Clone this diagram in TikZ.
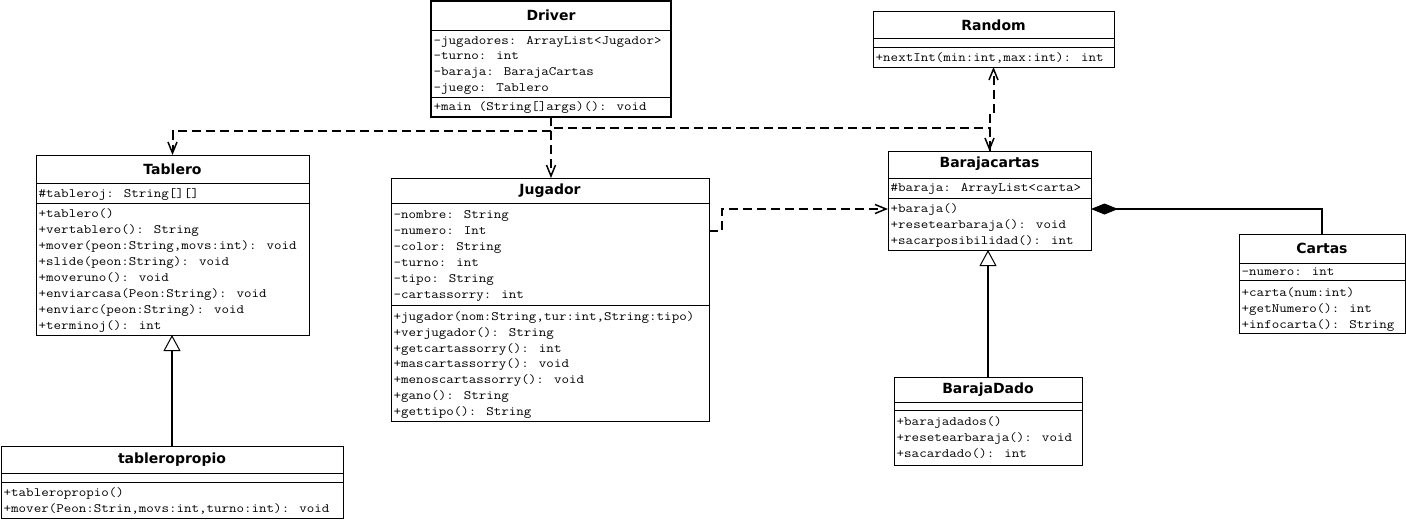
\documentclass[tikz,border=0pt]{standalone}
\usepackage{fontspec}
\setmainfont{DejaVu Sans}
\newfontfamily\membfont[FakeStretch=1.14]{Latin Modern Mono}
\usetikzlibrary{arrows.meta}
\tikzset{
  x=1pt, y=-1pt,
  box/.style={draw=black, line width=1pt, fill=white, inner sep=0pt, outer sep=0pt, anchor=north west},
  ttl/.style={font=\bfseries\fontsize{14}{14}\selectfont, inner sep=0pt},
  memb/.style={font=\membfont\fontsize{12.8}{13}\selectfont, anchor=west, inner sep=0pt, text height=9pt, text depth=3pt},
  sepline/.style={draw=black, line width=1pt},
  dep/.style={line width=2pt, dash pattern=on 9pt off 5pt,
    -{Straight Barb[length=11pt,width=9pt,line width=1.5pt]}},
  inh/.style={line width=2.5pt, -{Triangle[open,length=16pt,width=17pt,line width=1pt]}},
  comp/.style={line width=2.5pt, {Diamond[length=27pt,width=11pt,line width=1pt]}-},
}
% \umlclass{name}{x}{y}{width}{height}{title}{title centre}{sep 1}{sep 2}
\newcommand\umlclass[9]{%
  \node[box, minimum width=#4pt, minimum height=#5pt] (#1) at (#2,#3) {};
  \node[ttl] (#1-title) at ([yshift=-#7pt]#1.north) {#6};
  \draw[sepline] ([yshift=-#8pt]#1.north west) -- ([yshift=-#8pt]#1.north east);
  \draw[sepline] ([yshift=-#9pt]#1.north west) -- ([yshift=-#9pt]#1.north east);
}
% \memb{class}{offset from top}{text}
\newcommand\memb[3]{%
  \node[memb] (#1-#2) at ([xshift=2.5pt,yshift=-#2pt]#1.north west) {#3};
}
\begin{document}
\begin{tikzpicture}
\fill[white] (0,0) rectangle (1406,520);
\useasboundingbox (0,0) rectangle (1406,520);

% Driver
\umlclass{driver}{431}{1}{240}{116}{Driver}{14}{29}{96}
\draw[line width=2pt] (driver.north west) rectangle (driver.south east);
\memb{driver}{40}{-jugadores: ArrayList<Jugador>}
\memb{driver}{55}{-turno: int}
\memb{driver}{71}{-baraja: BarajaCartas}
\memb{driver}{87}{-juego: Tablero}
\memb{driver}{106}{+main (String[]args)(): void}

% Random
\umlclass{random}{873}{11}{241}{56}{Random}{14}{27}{36}
\memb{random}{47}{+nextInt(min:int,max:int): int}

% Tablero
\umlclass{tablero}{36}{155}{273}{180}{Tablero}{14}{28}{48}
\memb{tablero}{39}{\#tableroj: String[][]}
\memb{tablero}{59}{+tablero()}
\memb{tablero}{75}{+vertablero(): String}
\memb{tablero}{91}{+mover(peon:String,movs:int): void}
\memb{tablero}{107}{+slide(peon:String): void}
\memb{tablero}{123}{+moveruno(): void}
\memb{tablero}{139}{+enviarcasa(Peon:String): void}
\memb{tablero}{155}{+enviarc(peon:String): void}
\memb{tablero}{171}{+terminoj(): int}

% Jugador
\umlclass{jugador}{391}{178}{318}{243}{Jugador}{13}{25}{127}
\memb{jugador}{37}{-nombre: String}
\memb{jugador}{53}{-numero: Int}
\memb{jugador}{69}{-color: String}
\memb{jugador}{85}{-turno: int}
\memb{jugador}{101}{-tipo: String}
\memb{jugador}{117}{-cartassorry: int}
\memb{jugador}{139}{+jugador(nom:String,tur:int,String:tipo)}
\memb{jugador}{155}{+verjugador(): String}
\memb{jugador}{171}{+getcartassorry(): int}
\memb{jugador}{186}{+mascartassorry(): void}
\memb{jugador}{202}{+menoscartassorry(): void}
\memb{jugador}{218}{+gano(): String}
\memb{jugador}{234}{+gettipo(): String}

% Barajacartas
\umlclass{barajacartas}{888}{151}{203}{99}{Barajacartas}{13}{27}{47}
\memb{barajacartas}{37}{\#baraja: ArrayList<carta>}
\memb{barajacartas}{58}{+baraja()}
\memb{barajacartas}{74}{+resetearbaraja(): void}
\memb{barajacartas}{90}{+sacarposibilidad(): int}

% Cartas
\umlclass{cartas}{1239}{234}{166}{99}{Cartas}{14}{29}{46}
\memb{cartas}{38}{-numero: int}
\memb{cartas}{59}{+carta(num:int)}
\memb{cartas}{75}{+getNumero(): int}
\memb{cartas}{91}{+infocarta(): String}

% BarajaDado
\umlclass{barajadado}{894}{377}{188}{88}{BarajaDado}{13}{25}{33}
\memb{barajadado}{45}{+barajadados()}
\memb{barajadado}{61}{+resetearbaraja(): void}
\memb{barajadado}{77}{+sacardado(): int}

% tableropropio
\umlclass{tableropropio}{1}{446}{342}{72}{tableropropio}{14}{27}{36}
\memb{tableropropio}{47}{+tableropropio()}
\memb{tableropropio}{63}{+mover(Peon:Strin,movs:int,turno:int): void}

% dependencies
\draw[dep] (driver.south) -- ++(0,14) -| (tablero.north);
\draw[dep] (driver.south) -- (driver.south |- jugador.north);
\draw[dep] (driver.south) -- ++(0,11) -| (barajacartas.north);
\draw[dep] (barajacartas.north) -- ++(0,-39) -| (random.south);
\draw[dep] ([yshift=-53pt]jugador.north east) -- ++(13,0) |- ([yshift=-58pt]barajacartas.north west);

% composition
\draw[comp] ([yshift=-58pt]barajacartas.north east) -| (cartas.north);

% generalisations
\draw[inh] (barajadado.north) -- (barajadado.north |- barajacartas.south);
\draw[inh] (tableropropio.north) -- (tableropropio.north |- tablero.south);
\end{tikzpicture}
\end{document}
